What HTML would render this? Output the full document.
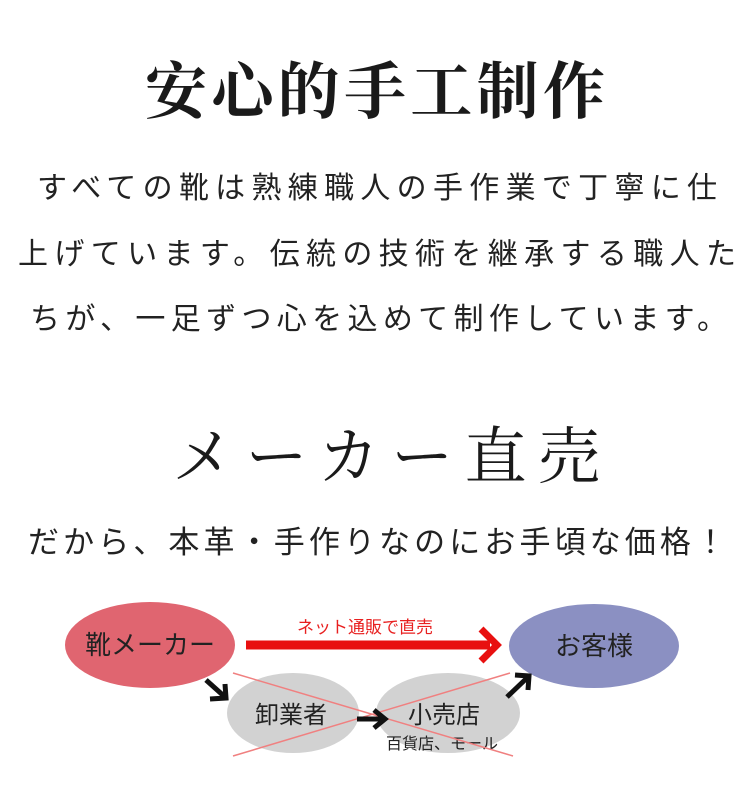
<!DOCTYPE html>
<html><head><meta charset="utf-8"><style>
html,body{margin:0;padding:0;background:#fff;width:750px;height:806px;overflow:hidden}
svg{display:block}
.s{font-family:"Liberation Sans","Noto Sans CJK JP",sans-serif}
.r{font-family:"Liberation Serif","Noto Serif CJK SC",serif}
</style></head><body>
<svg width="750" height="806" viewBox="0 0 750 806">
<text class="r" x="145" y="113" font-size="62" font-weight="bold" fill="#1a1a1a" textLength="460" lengthAdjust="spacing">安心的手工制作</text>
<g class="s" font-size="30" fill="#222">
<text x="37" y="198" textLength="680" lengthAdjust="spacing">すべての靴は熟練職人の手作業で丁寧に仕</text>
<text x="18" y="264" textLength="718" lengthAdjust="spacing">上げています。伝統の技術を継承する職人た</text>
<text x="30" y="329" textLength="697" lengthAdjust="spacing">ちが、一足ずつ心を込めて制作しています。</text>
</g>
<text class="r" x="172" y="478" font-size="62" fill="#1a1a1a" textLength="428" lengthAdjust="spacing">メーカー直売</text>
<text class="s" x="28" y="553" font-size="31" fill="#222" textLength="698" lengthAdjust="spacing">だから、本革・手作りなのにお手頃な価格！</text>

<ellipse cx="150" cy="645" rx="85" ry="43" fill="#e06570"/>
<ellipse cx="594" cy="646" rx="85" ry="42" fill="#8b90c2"/>
<ellipse cx="293" cy="713" rx="66" ry="40" fill="#d2d2d2"/>
<ellipse cx="448" cy="713" rx="72" ry="40" fill="#d2d2d2"/>
<g class="s" fill="#222">
<text x="150" y="654" font-size="26" text-anchor="middle">靴メーカー</text>
<text x="594" y="655" font-size="26" text-anchor="middle">お客様</text>
<text x="291" y="723" font-size="24" text-anchor="middle">卸業者</text>
<text x="444" y="723" font-size="24" text-anchor="middle">小売店</text>
<text x="442" y="749" font-size="16" text-anchor="middle">百貨店、モール</text>
</g>
<text class="s" x="365" y="633" font-size="17" fill="#e82020" text-anchor="middle">ネット通販で直売</text>
<line x1="246" y1="645" x2="490" y2="645" stroke="#e81010" stroke-width="9"/>
<polyline points="481,629 497,645 481,661" fill="none" stroke="#e81010" stroke-width="7"/>
<line x1="233" y1="673" x2="513" y2="756" stroke="#f08080" stroke-width="1.5"/>
<line x1="233" y1="756" x2="510" y2="673" stroke="#f08080" stroke-width="1.5"/>
<g stroke="#111" stroke-width="5" fill="none">
<line x1="206" y1="680" x2="225" y2="697"/><polyline points="210,699 226,698 225,684"/>
<line x1="357" y1="719" x2="384" y2="719"/><polyline points="374,710 385,719 374,728"/>
<line x1="507" y1="697" x2="528" y2="677"/><polyline points="515,675 529,676 528,690"/>
</g>
</svg>
</body></html>
